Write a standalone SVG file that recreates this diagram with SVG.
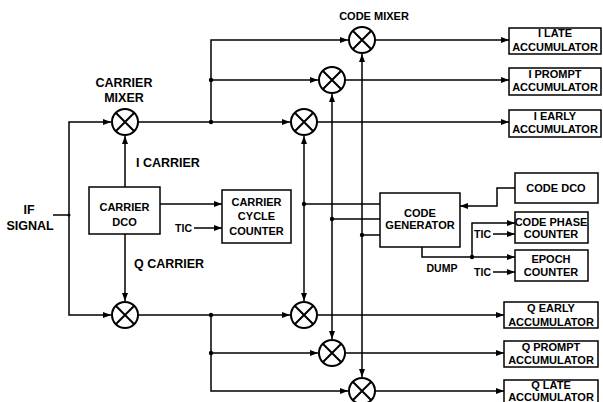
<svg xmlns="http://www.w3.org/2000/svg" width="603" height="402" viewBox="0 0 603 402">
<defs>
<marker id="ah" markerUnits="userSpaceOnUse" markerWidth="9" markerHeight="7" refX="8" refY="3" orient="auto">
<path d="M0,0 L8,3 L0,6 z" fill="#000"/>
</marker>
<g id="mix"><circle r="13" fill="#fff" stroke="#000" stroke-width="2"/><path d="M-9,-9 L9,9 M9,-9 L-9,9" stroke="#000" stroke-width="2"/></g>
</defs>
<style>
text{font-family:"Liberation Sans",Arial,sans-serif;font-weight:bold;fill:#000}
.bx{fill:#fff;stroke:#000;stroke-width:1.5}
.t11{font-size:11px;text-anchor:middle}
.t12{font-size:12.5px}
.tc{text-anchor:middle}
.c path{fill:none;stroke:#000;stroke-width:1.5}
.c path.a{marker-end:url(#ah)}
.d circle{fill:#000}
</style>
<rect width="603" height="402" fill="#fff"/>
<g class="c" id="connectors">
<path d="M53,215 H69"/>
<path class="a" d="M69,215 V122 H111"/>
<path class="a" d="M69,215 V315 H111"/>
<path class="a" d="M125,187 V136"/>
<path class="a" d="M125,234 V301"/>
<path class="a" d="M160,204 H222"/>
<path class="a" d="M194,228 H222"/>
<path class="a" d="M138,122 H290"/>
<path class="a" d="M211,122 V40 H348"/>
<path class="a" d="M211,80 H318"/>
<path class="a" d="M138,315 H290"/>
<path class="a" d="M211,315 V391 H348"/>
<path class="a" d="M211,353 H318"/>
<path class="a" d="M304,204 V136"/>
<path class="a" d="M304,204 V301"/>
<path d="M380,204 H304"/>
<path class="a" d="M332,219 V94"/>
<path class="a" d="M332,219 V339"/>
<path d="M380,219 H332"/>
<path class="a" d="M362,235 V54"/>
<path class="a" d="M362,235 V377"/>
<path d="M380,235 H362"/>
<path class="a" d="M375,40 H509"/>
<path class="a" d="M345,80 H509"/>
<path class="a" d="M317,122 H509"/>
<path class="a" d="M317,315 H504"/>
<path class="a" d="M345,353 H504"/>
<path class="a" d="M375,391 H504"/>
<path class="a" d="M515,188 H497 V206 H460"/>
<path class="a" d="M422,247 V257 H515"/>
<path class="a" d="M472,257 V223 H515"/>
<path class="a" d="M493,234 H515"/>
<path class="a" d="M493,272 H515"/>
</g>
<g class="d" id="dots">
<circle cx="69" cy="215" r="1.5"/>
<circle cx="211" cy="122" r="2.2"/>
<circle cx="211" cy="80" r="2.2"/>
<circle cx="211" cy="315" r="2.2"/>
<circle cx="211" cy="353" r="2.2"/>
<circle cx="304" cy="204" r="2.2"/>
<circle cx="332" cy="219" r="2.2"/>
<circle cx="362" cy="235" r="2.2"/>
<circle cx="472" cy="257" r="2.2"/>
</g>
<g id="carrier-mixer-i"><use href="#mix" x="125" y="122"/></g>
<g id="carrier-mixer-q"><use href="#mix" x="125" y="315"/></g>
<g id="mixer-i-early"><use href="#mix" x="304" y="122"/></g>
<g id="mixer-i-prompt"><use href="#mix" x="332" y="80"/></g>
<g id="mixer-i-late"><use href="#mix" x="362" y="40"/></g>
<g id="mixer-q-early"><use href="#mix" x="304" y="315"/></g>
<g id="mixer-q-prompt"><use href="#mix" x="332" y="353"/></g>
<g id="mixer-q-late"><use href="#mix" x="362" y="391"/></g>
<g id="labels">
<text class="t12 tc" x="124" y="86.5">CARRIER</text>
<text class="t12 tc" x="124" y="101.5">MIXER</text>
<text class="t12" x="136" y="166.5">I CARRIER</text>
<text class="t12" x="134" y="267.5">Q CARRIER</text>
<text class="t12 tc" x="29" y="214">IF</text>
<text class="t12 tc" x="30" y="229.5">SIGNAL</text>
<text class="t11" x="374" y="20">CODE MIXER</text>
<text x="192" y="232" font-size="10.5" text-anchor="end">TIC</text>
<text x="491" y="238" font-size="10.5" text-anchor="end">TIC</text>
<text x="491" y="276" font-size="10.5" text-anchor="end">TIC</text>
<text x="442" y="271.5" font-size="10.5" text-anchor="middle">DUMP</text>
</g>
<g id="carrier-dco"><rect class="bx" x="89" y="187" width="71" height="47"/><text class="t11" x="124.5" y="211">CARRIER</text><text class="t11" x="124.5" y="226">DCO</text></g>
<g id="carrier-cycle-counter"><rect class="bx" x="222" y="190" width="69" height="53"/><text class="t11" x="256.5" y="206">CARRIER</text><text class="t11" x="256.5" y="220">CYCLE</text><text class="t11" x="256.5" y="235">COUNTER</text></g>
<g id="code-generator"><rect class="bx" x="380" y="193" width="80" height="54"/><text class="t11" x="420" y="217">CODE</text><text class="t11" x="420" y="229">GENERATOR</text></g>
<g id="code-dco"><rect class="bx" x="515" y="173" width="83" height="30"/><text class="t11" x="556" y="192">CODE DCO</text></g>
<g id="code-phase-counter"><rect class="bx" x="515" y="212" width="73" height="31"/><text class="t11" x="551" y="226">CODE PHASE</text><text class="t11" x="551" y="238">COUNTER</text></g>
<g id="epoch-counter"><rect class="bx" x="515" y="250" width="73" height="31"/><text class="t11" x="551" y="263">EPOCH</text><text class="t11" x="551" y="276">COUNTER</text></g>
<g id="i-late-acc"><rect class="bx" x="509" y="28" width="92" height="26"/><text class="t11" x="555" y="37">I LATE</text><text class="t11" x="555" y="51">ACCUMULATOR</text></g>
<g id="i-prompt-acc"><rect class="bx" x="509" y="68" width="92" height="27"/><text class="t11" x="555" y="78">I PROMPT</text><text class="t11" x="555" y="91">ACCUMULATOR</text></g>
<g id="i-early-acc"><rect class="bx" x="509" y="110" width="92" height="27"/><text class="t11" x="555" y="120">I EARLY</text><text class="t11" x="555" y="133">ACCUMULATOR</text></g>
<g id="q-early-acc"><rect class="bx" x="504" y="302" width="94" height="26"/><text class="t11" x="551" y="312">Q EARLY</text><text class="t11" x="551" y="326">ACCUMULATOR</text></g>
<g id="q-prompt-acc"><rect class="bx" x="504" y="341" width="94" height="26"/><text class="t11" x="551" y="351">Q PROMPT</text><text class="t11" x="551" y="364">ACCUMULATOR</text></g>
<g id="q-late-acc"><rect class="bx" x="504" y="380" width="94" height="26"/><text class="t11" x="551" y="389">Q LATE</text><text class="t11" x="551" y="400.5">ACCUMULATOR</text></g>
</svg>
